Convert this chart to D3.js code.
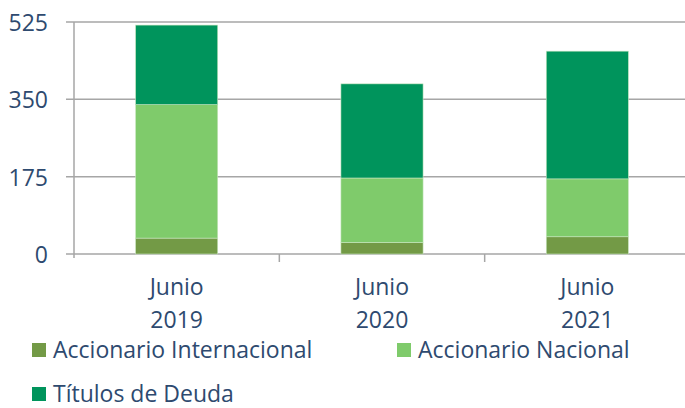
<!DOCTYPE html>
<html><head><meta charset="utf-8">
<script src="https://cdn.jsdelivr.net/npm/d3@7/dist/d3.min.js"></script>
<style>body{margin:0;background:#fff}svg{display:block}text{font-family:"Open Sans",sans-serif}</style>
</head><body><svg id="c" width="685" height="408"></svg>
<script>
const categories = [["Junio","2019"],["Junio","2020"],["Junio","2021"]];
const catKeys = ["2019","2020","2021"];
const accInternacional = [36, 26, 39];
const accNacional = [302, 146, 131];
const titulosDeuda = [180, 213, 289];
const seriesNames = ["Accionario Internacional","Accionario Nacional","Títulos de Deuda"];
const colors = ["#739a46","#7fcb6b","#00945c"];
const yTicks = [0,175,350,525];

const svg = d3.select("#c");
const textColor = "#2e4a6f";
const fs = 23;
const x = d3.scaleBand().domain(catKeys).range([74, 690]).paddingInner(0.6).paddingOuter(0.3);
const y = d3.scaleLinear().domain([0,525]).range([254,22]);

// gridlines
svg.append("g").selectAll("line").data(yTicks).join("line")
  .attr("x1",66).attr("x2",685).attr("y1",d=>y(d)).attr("y2",d=>y(d))
  .attr("stroke","#a6a6a6").attr("stroke-width",1.5);
// y axis line
svg.append("line").attr("x1",74).attr("x2",74).attr("y1",22).attr("y2",258).attr("stroke","#a6a6a6").attr("stroke-width",1.5);
// category separators ticks
const bandStep = x.step();
svg.append("g").selectAll("line").data(catKeys.slice(1)).join("line")
  .attr("x1",d=>x(d)-x.paddingInner()*bandStep/2).attr("x2",d=>x(d)-x.paddingInner()*bandStep/2)
  .attr("y1",254).attr("y2",262).attr("stroke","#a6a6a6").attr("stroke-width",1.5);

// y labels
svg.append("g").selectAll("text").data(yTicks).join("text")
  .attr("x",48).attr("y",d=>y(d)+9).attr("text-anchor","end")
  .attr("fill",textColor).attr("font-size",fs).text(d=>d);

// stacked bars
const rows = catKeys.map((k,i)=>({key:k, a:accInternacional[i], b:accNacional[i], c:titulosDeuda[i]}));
const stack = d3.stack().keys(["a","b","c"])(rows);
svg.append("g").selectAll("g").data(stack).join("g").attr("fill",(d,i)=>colors[i])
  .selectAll("rect").data(d=>d).join("rect")
  .attr("x",d=>x(d.data.key)).attr("width",x.bandwidth())
  .attr("y",d=>y(d[1])).attr("height",d=>y(d[0])-y(d[1]))
  .attr("stroke","#c8e6c0").attr("stroke-width",0.6);

// x labels
const xl = svg.append("g").selectAll("text").data(categories).join("text")
  .attr("text-anchor","middle").attr("fill",textColor).attr("font-size",fs)
  .attr("transform",(d,i)=>`translate(${x(catKeys[i])+x.bandwidth()/2},0)`);
xl.append("tspan").attr("x",0).attr("y",295).text(d=>d[0]);
xl.append("tspan").attr("x",0).attr("y",328).text(d=>d[1]);

// legend
const legPos = [[32,358],[397,358],[32,402]];
const lg = svg.append("g").selectAll("g").data(seriesNames).join("g")
  .attr("transform",(d,i)=>`translate(${legPos[i][0]},${legPos[i][1]})`);
lg.append("rect").attr("x",0).attr("y",-15).attr("width",14).attr("height",14).attr("fill",(d,i)=>colors[i]);
lg.append("text").attr("x",21).attr("y",0).attr("fill",textColor).attr("font-size",fs).text(d=>d);
</script></body></html>
